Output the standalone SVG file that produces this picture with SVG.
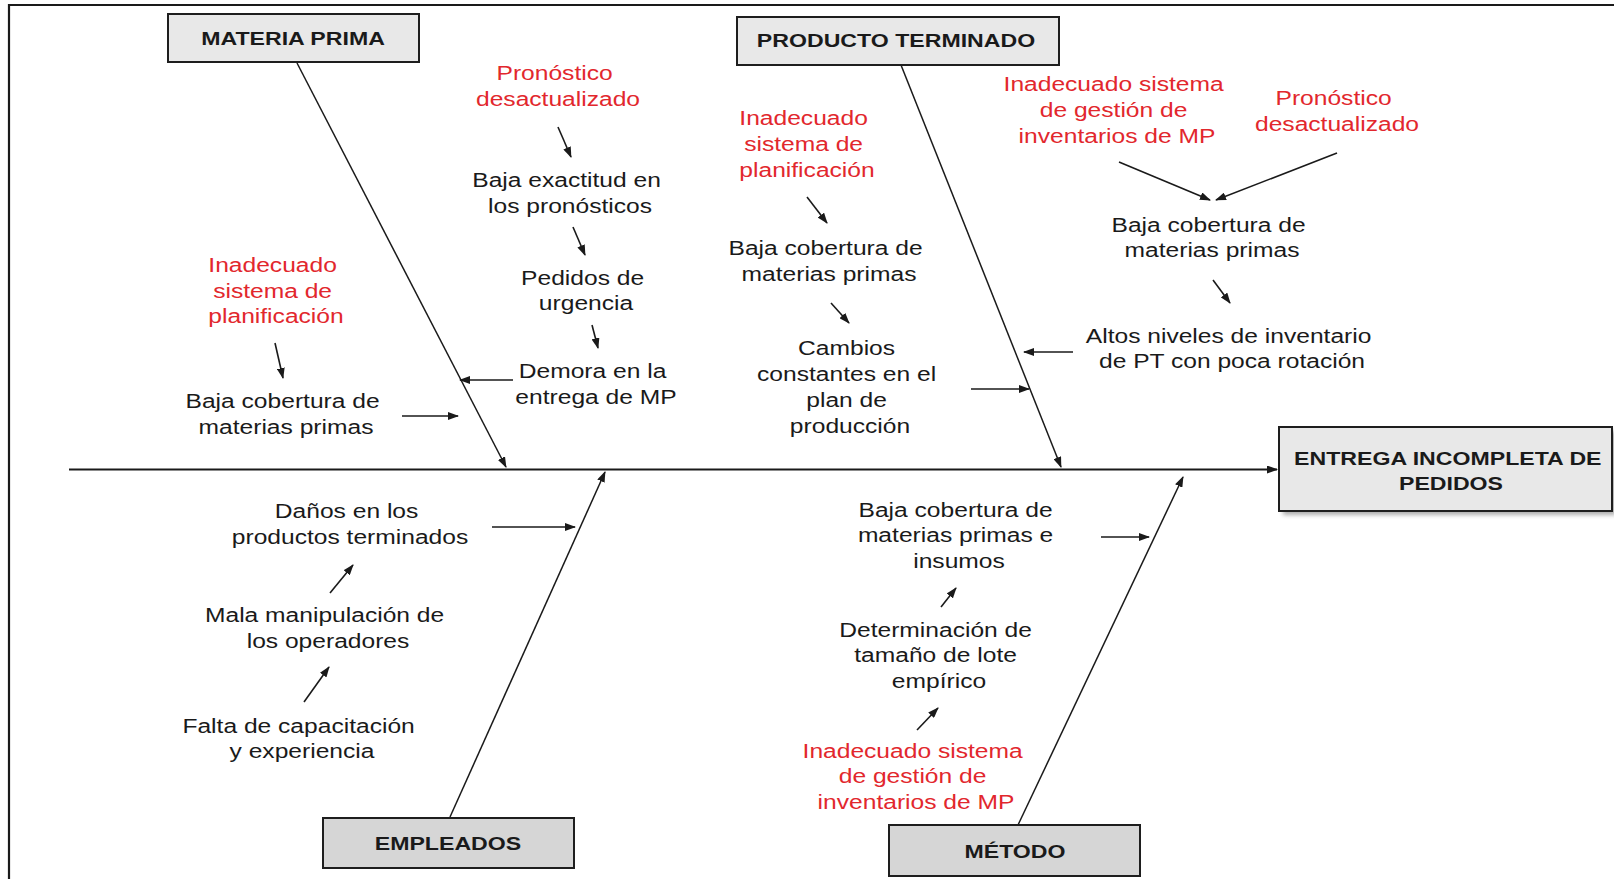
<svg xmlns="http://www.w3.org/2000/svg" width="1614" height="879" viewBox="0 0 1614 879">
  <defs>
    <marker id="ah" markerUnits="userSpaceOnUse" markerWidth="11" markerHeight="8" refX="10" refY="4" orient="auto">
      <path d="M0,0 L11,4 L0,8 z" fill="#1a1a1a"/>
    </marker>
    <filter id="shadow" x="-5%" y="-5%" width="115%" height="130%">
      <feGaussianBlur stdDeviation="2"/>
    </filter>
    <style>
      .t { font-family: "Liberation Sans", Arial, sans-serif; font-size: 20px; fill: #1a1a1a; text-anchor: middle; }
      .r { fill: #e2272d; }
      .h { font-weight: bold; font-size: 18.5px; fill: #1a1a1a; }
      .box { fill: #e8e8e8; stroke: #1e1e1e; stroke-width: 2; }
      .box2 { fill: #d6d6d6; stroke: #1e1e1e; stroke-width: 2; }
      .ln { stroke: #1a1a1a; stroke-width: 1.6; fill: none; marker-end: url(#ah); }
      .bone { stroke: #1a1a1a; stroke-width: 1.5; fill: none; marker-end: url(#ah); }
    </style>
  </defs>

  <rect width="1614" height="879" fill="#ffffff"/>
  <!-- frame: left and top edges only -->
  <path d="M9,879 V5 H1614" fill="none" stroke="#1a1a1a" stroke-width="2.2"/>

  <!-- spine and category bones -->
  <g id="connectors">
    <line class="bone" x1="69" y1="469.5" x2="1277" y2="469.5" style="stroke-width:2"/>
    <line class="bone" x1="297" y1="63" x2="506" y2="467"/>
    <line class="bone" x1="901" y1="65" x2="1061" y2="467"/>
    <line class="bone" x1="450" y1="817" x2="605" y2="472"/>
    <line class="bone" x1="1018" y1="825" x2="1183" y2="477"/>

    <!-- materia prima -->
    <line class="ln" x1="558" y1="127" x2="571" y2="157"/>
    <line class="ln" x1="573" y1="227" x2="585" y2="255"/>
    <line class="ln" x1="592" y1="325" x2="598" y2="348"/>
    <line class="ln" x1="275" y1="343" x2="283" y2="378"/>
    <line class="ln" x1="513" y1="380" x2="460" y2="380"/>
    <line class="ln" x1="402" y1="416" x2="458" y2="416"/>

    <!-- producto terminado -->
    <line class="ln" x1="807" y1="197" x2="827" y2="223"/>
    <line class="ln" x1="831" y1="303" x2="849" y2="323"/>
    <line class="ln" x1="971" y1="389" x2="1029" y2="389"/>
    <line class="ln" x1="1119" y1="162" x2="1210" y2="200"/>
    <line class="ln" x1="1337" y1="153" x2="1216" y2="200"/>
    <line class="ln" x1="1213" y1="280" x2="1230" y2="303"/>
    <line class="ln" x1="1073" y1="352" x2="1024" y2="352"/>

    <!-- empleados -->
    <line class="ln" x1="492" y1="527" x2="575" y2="527"/>
    <line class="ln" x1="330" y1="593" x2="353" y2="565"/>
    <line class="ln" x1="304" y1="702" x2="329" y2="667"/>

    <!-- metodo -->
    <line class="ln" x1="1101" y1="537" x2="1149" y2="537"/>
    <line class="ln" x1="941" y1="607" x2="956" y2="588"/>
    <line class="ln" x1="917" y1="730" x2="938" y2="708"/>
  </g>

  <!-- category headers -->
  <g id="materia-prima">
    <rect class="box" x="168" y="14" width="251" height="48"/>
    <text class="t h" transform="translate(293,0) scale(1.25,1)" x="0" y="45">MATERIA PRIMA</text>
  </g>
  <g id="producto-terminado">
    <rect class="box" x="737" y="17" width="322" height="48"/>
    <text class="t h" transform="translate(896,0) scale(1.25,1)" x="0" y="47">PRODUCTO TERMINADO</text>
  </g>
  <g id="empleados">
    <rect class="box2" x="323" y="818" width="251" height="50"/>
    <text class="t h" transform="translate(448,0) scale(1.25,1)" x="0" y="850">EMPLEADOS</text>
  </g>
  <g id="metodo">
    <rect class="box2" x="889" y="825" width="251" height="51"/>
    <text class="t h" transform="translate(1015,0) scale(1.25,1)" x="0" y="858">MÉTODO</text>
  </g>
  <g id="efecto">
    <rect x="1283" y="431" width="333" height="84" fill="#8a8a8a" opacity="0.7" filter="url(#shadow)"/>
    <rect class="box" x="1279" y="427" width="333" height="84"/>
    <text class="t h" transform="translate(1451,0) scale(1.25,1)" x="0">
      <tspan x="0" y="465">ENTREGA INCOMPLETA DE</tspan>
      <tspan x="0" y="490">PEDIDOS</tspan>
    </text>
  </g>

  <!-- materia prima causes -->
  <g id="mp-pronostico">
    <text class="t r" transform="translate(558,0) scale(1.23,1)">
      <tspan x="0" y="80">Pronóstico</tspan>
      <tspan x="0" y="106">desactualizado</tspan>
    </text>
  </g>
  <g id="mp-exactitud">
    <text class="t" transform="translate(570,0) scale(1.23,1)">
      <tspan x="0" y="187">Baja exactitud en</tspan>
      <tspan x="0" y="213">los pronósticos</tspan>
    </text>
  </g>
  <g id="mp-urgencia">
    <text class="t" transform="translate(586,0) scale(1.23,1)">
      <tspan x="0" y="285">Pedidos de</tspan>
      <tspan x="0" y="310">urgencia</tspan>
    </text>
  </g>
  <g id="mp-demora">
    <text class="t" transform="translate(596,0) scale(1.23,1)">
      <tspan x="0" y="378">Demora en la</tspan>
      <tspan x="0" y="404">entrega de MP</tspan>
    </text>
  </g>
  <g id="mp-planificacion">
    <text class="t r" transform="translate(276,0) scale(1.23,1)">
      <tspan x="0" y="272">Inadecuado</tspan>
      <tspan x="0" y="298">sistema de</tspan>
      <tspan x="0" y="323">planificación</tspan>
    </text>
  </g>
  <g id="mp-cobertura">
    <text class="t" transform="translate(286,0) scale(1.23,1)">
      <tspan x="0" y="408">Baja cobertura de</tspan>
      <tspan x="0" y="434">materias primas</tspan>
    </text>
  </g>

  <!-- producto terminado causes -->
  <g id="pt-planificacion">
    <text class="t r" transform="translate(807,0) scale(1.23,1)">
      <tspan x="0" y="125">Inadecuado</tspan>
      <tspan x="0" y="151">sistema de</tspan>
      <tspan x="0" y="177">planificación</tspan>
    </text>
  </g>
  <g id="pt-cobertura">
    <text class="t" transform="translate(829,0) scale(1.23,1)">
      <tspan x="0" y="255">Baja cobertura de</tspan>
      <tspan x="0" y="281">materias primas</tspan>
    </text>
  </g>
  <g id="pt-cambios">
    <text class="t" transform="translate(850,0) scale(1.23,1)">
      <tspan x="0" y="355">Cambios</tspan>
      <tspan x="0" y="381">constantes en el</tspan>
      <tspan x="0" y="407">plan de</tspan>
      <tspan x="0" y="433">producción</tspan>
    </text>
  </g>
  <g id="pt-gestion">
    <text class="t r" transform="translate(1117,0) scale(1.23,1)">
      <tspan x="0" y="91">Inadecuado sistema</tspan>
      <tspan x="0" y="117">de gestión de</tspan>
      <tspan x="0" y="143">inventarios de MP</tspan>
    </text>
  </g>
  <g id="pt-pronostico">
    <text class="t r" transform="translate(1337,0) scale(1.23,1)">
      <tspan x="0" y="105">Pronóstico</tspan>
      <tspan x="0" y="131">desactualizado</tspan>
    </text>
  </g>
  <g id="pt-cobertura-2">
    <text class="t" transform="translate(1212,0) scale(1.23,1)">
      <tspan x="0" y="232">Baja cobertura de</tspan>
      <tspan x="0" y="257">materias primas</tspan>
    </text>
  </g>
  <g id="pt-inventario">
    <text class="t" transform="translate(1232,0) scale(1.23,1)">
      <tspan x="0" y="343">Altos niveles de inventario</tspan>
      <tspan x="0" y="368">de PT con poca rotación</tspan>
    </text>
  </g>

  <!-- empleados causes -->
  <g id="em-danos">
    <text class="t" transform="translate(350,0) scale(1.23,1)">
      <tspan x="0" y="518">Daños en los</tspan>
      <tspan x="0" y="544">productos terminados</tspan>
    </text>
  </g>
  <g id="em-manipulacion">
    <text class="t" transform="translate(328,0) scale(1.23,1)">
      <tspan x="0" y="622">Mala manipulación de</tspan>
      <tspan x="0" y="648">los operadores</tspan>
    </text>
  </g>
  <g id="em-capacitacion">
    <text class="t" transform="translate(302,0) scale(1.23,1)">
      <tspan x="0" y="733">Falta de capacitación</tspan>
      <tspan x="0" y="758">y experiencia</tspan>
    </text>
  </g>

  <!-- metodo causes -->
  <g id="me-cobertura">
    <text class="t" transform="translate(959,0) scale(1.23,1)">
      <tspan x="0" y="517">Baja cobertura de</tspan>
      <tspan x="0" y="542">materias primas e</tspan>
      <tspan x="0" y="568">insumos</tspan>
    </text>
  </g>
  <g id="me-lote">
    <text class="t" transform="translate(939,0) scale(1.23,1)">
      <tspan x="0" y="637">Determinación de</tspan>
      <tspan x="0" y="662">tamaño de lote</tspan>
      <tspan x="0" y="688">empírico</tspan>
    </text>
  </g>
  <g id="me-gestion">
    <text class="t r" transform="translate(916,0) scale(1.23,1)">
      <tspan x="0" y="758">Inadecuado sistema</tspan>
      <tspan x="0" y="783">de gestión de</tspan>
      <tspan x="0" y="809">inventarios de MP</tspan>
    </text>
  </g>
</svg>
